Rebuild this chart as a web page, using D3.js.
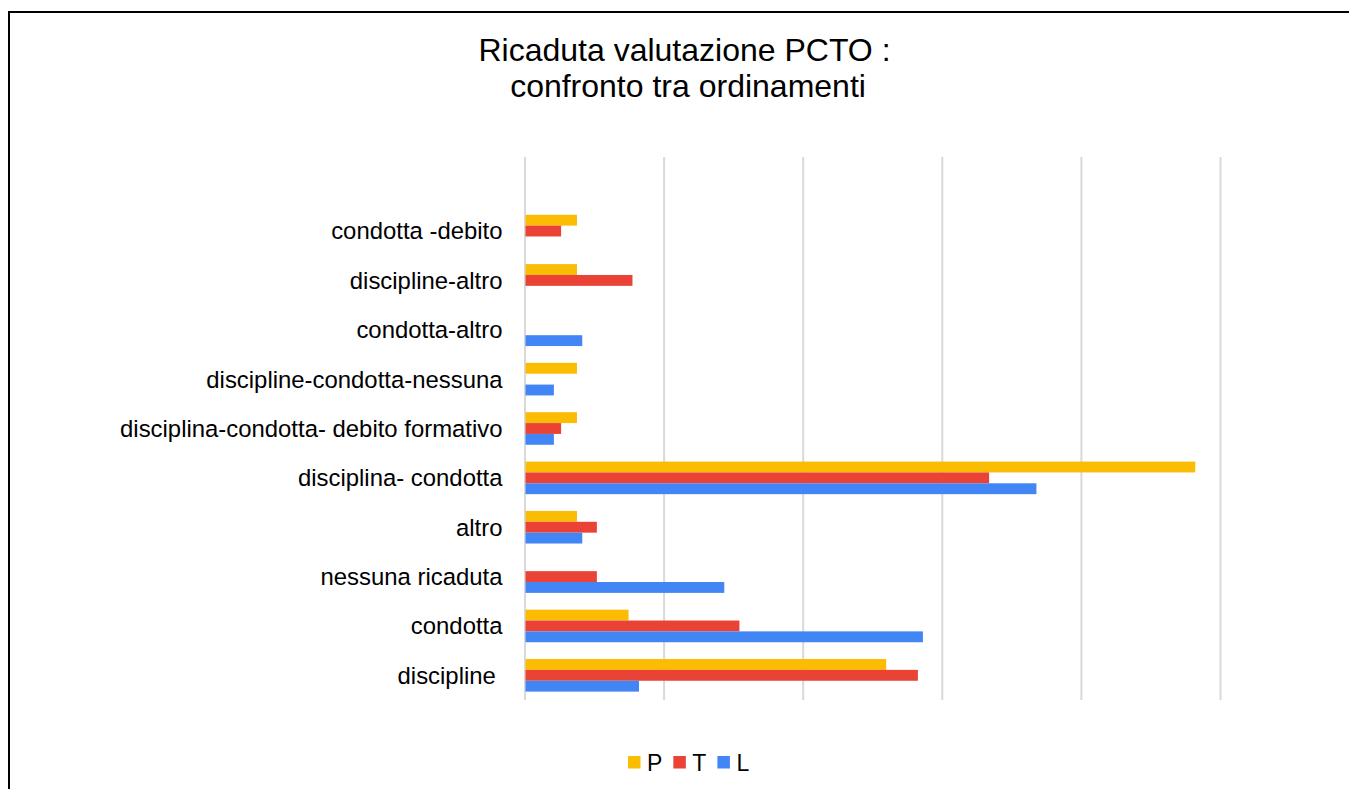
<!DOCTYPE html>
<html>
<head>
<meta charset="utf-8">
<script src="https://cdn.jsdelivr.net/npm/d3@7"></script>
<style>
  html, body { margin: 0; padding: 0; background: #fff; }
  svg { display: block; font-family: "Liberation Sans", Arial, sans-serif; }
</style>
</head>
<body>
<svg id="chart" width="1349" height="789"></svg>
<script>
// categories, top to bottom
const categories = [
  "condotta -debito",
  "discipline-altro",
  "condotta-altro",
  "discipline-condotta-nessuna",
  "disciplina-condotta- debito formativo",
  "disciplina- condotta",
  "altro",
  "nessuna ricaduta",
  "condotta",
  "discipline "
];
const seriesNames = ["P", "T", "L"];
// values in percent
const valuesP = [3.70, 3.70, 0, 3.70, 3.70, 48.15, 3.70, 0, 7.41, 25.93];
const valuesT = [2.56, 7.69, 0, 0, 2.56, 33.33, 5.13, 5.13, 15.38, 28.21];
const valuesL = [0, 0, 4.08, 2.04, 2.04, 36.73, 4.08, 14.29, 28.57, 8.16];
const xTicks = [0, 10, 20, 30, 40, 50];

const colors = {P: "#fbbc04", T: "#ea4335", L: "#4285f4"};

const svg = d3.select("#chart");
const width = +svg.attr("width");
const height = +svg.attr("height");

svg.append("rect")
  .attr("width", width)
  .attr("height", height)
  .attr("fill", "#fff");

// frame (only left and top edges fall inside the picture)
svg.append("rect")
  .attr("x", 9)
  .attr("y", 12)
  .attr("width", width + 20)
  .attr("height", height + 20)
  .attr("fill", "none")
  .attr("stroke", "#000")
  .attr("stroke-width", 2);

// title
const title = svg.append("text")
  .attr("text-anchor", "middle")
  .style("font-size", "32px")
  .style("fill", "#000");
title.append("tspan").attr("x", 684.5).attr("y", 61).text("Ricaduta valutazione PCTO :");
title.append("tspan").attr("x", 688).attr("y", 97).text("confronto tra ordinamenti");

const plot = {left: 524.5, right: 1220, top: 157, bottom: 700};

const x = d3.scaleLinear()
  .domain([0, 50])
  .range([plot.left, plot.right]);

// one empty slot above the first category
const step = (plot.bottom - plot.top) / (categories.length + 1);
const y0 = d3.scaleBand()
  .domain(categories)
  .range([plot.top + step, plot.bottom])
  .paddingInner(0.34)
  .paddingOuter(0.17);

const y1 = d3.scaleBand()
  .domain(seriesNames)
  .range([0, y0.bandwidth()]);

// grid lines
const grid = svg.append("g")
  .attr("transform", `translate(0,${plot.bottom})`)
  .call(d3.axisBottom(x).tickValues(xTicks).tickSize(-(plot.bottom - plot.top)).tickFormat(""));
grid.select(".domain").remove();
grid.selectAll(".tick line")
  .attr("stroke", "#d9d9d9")
  .attr("stroke-width", 2);

const rows = categories.map((c, i) => ({
  cat: c,
  vals: [
    {key: "P", v: valuesP[i]},
    {key: "T", v: valuesT[i]},
    {key: "L", v: valuesL[i]}
  ]
}));

const groups = svg.append("g")
  .selectAll("g")
  .data(rows)
  .join("g")
  .attr("transform", d => `translate(0,${y0(d.cat)})`);

groups.selectAll("rect")
  .data(d => d.vals.filter(v => v.v > 0))
  .join("rect")
  .attr("x", x(0) + 1)
  .attr("y", d => y1(d.key))
  .attr("width", d => x(d.v) - x(0))
  .attr("height", y1.bandwidth())
  .attr("fill", d => colors[d.key]);

// category labels
const yAxis = svg.append("g")
  .attr("transform", `translate(${plot.left - 22},0)`)
  .call(d3.axisLeft(y0).tickSize(0));
yAxis.select(".domain").remove();
yAxis.selectAll("text")
  .attr("x", 0)
  .attr("dy", "0.35em")
  .style("font-family", "'Liberation Sans', Arial, sans-serif")
  .style("font-size", "23.9px")
  .style("fill", "#000")
  .style("white-space", "pre");

// legend
const legend = svg.append("g").attr("transform", "translate(628,771)");
let cursor = 0;
seriesNames.forEach(name => {
  const item = legend.append("g").attr("transform", `translate(${cursor},0)`);
  item.append("rect")
    .attr("x", 0)
    .attr("y", -15)
    .attr("width", 12.5)
    .attr("height", 12.5)
    .attr("fill", colors[name]);
  const t = item.append("text")
    .attr("x", 19)
    .attr("y", 0)
    .style("font-size", "23px")
    .style("fill", "#000")
    .text(name);
  cursor += 19 + t.node().getComputedTextLength() + 11;
});
</script>
</body>
</html>
